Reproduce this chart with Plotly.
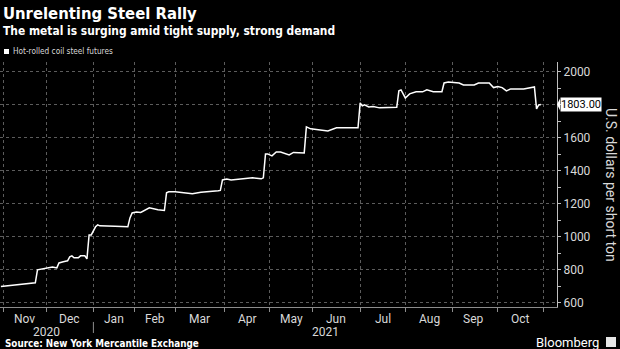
import plotly.graph_objects as go

# Hot-rolled coil steel futures, USD per short ton (trading days)
dates = [
    "2020-10-30", "2020-11-04", "2020-11-10", "2020-11-17", "2020-11-23", "2020-11-24",
    "2020-11-27", "2020-12-02", "2020-12-04", "2020-12-08", "2020-12-09", "2020-12-11",
    "2020-12-15", "2020-12-16", "2020-12-17", "2020-12-18", "2020-12-22", "2020-12-23",
    "2020-12-28", "2020-12-29", "2020-12-30", "2020-12-31", "2021-01-05", "2021-01-06",
    "2021-01-07", "2021-01-19", "2021-01-27", "2021-01-28", "2021-01-29", "2021-02-02",
    "2021-02-04", "2021-02-10", "2021-02-12", "2021-02-17", "2021-02-22", "2021-02-23",
    "2021-02-24", "2021-03-01", "2021-03-11", "2021-03-17", "2021-03-29", "2021-03-30",
    "2021-03-31", "2021-04-05", "2021-04-07", "2021-04-13", "2021-04-16", "2021-04-21",
    "2021-04-27", "2021-04-28", "2021-04-29", "2021-04-30", "2021-05-04", "2021-05-06",
    "2021-05-10", "2021-05-13", "2021-05-14", "2021-05-18", "2021-05-25", "2021-05-26",
    "2021-05-28", "2021-06-10", "2021-06-16", "2021-06-30", "2021-07-01", "2021-07-02",
    "2021-07-06", "2021-07-08", "2021-07-12", "2021-07-15", "2021-07-26", "2021-07-27",
    "2021-07-28", "2021-07-29", "2021-08-02", "2021-08-04", "2021-08-09", "2021-08-12",
    "2021-08-16", "2021-08-19", "2021-08-24", "2021-08-25", "2021-08-26", "2021-08-30",
    "2021-09-07", "2021-09-09", "2021-09-16", "2021-09-20", "2021-09-27", "2021-09-29",
    "2021-10-01", "2021-10-05", "2021-10-07", "2021-10-11", "2021-10-19", "2021-10-26",
    "2021-10-27", "2021-10-28", "2021-10-29",
]
prices = [
    700, 704, 710, 716, 722, 800,
    806, 812, 818, 812, 842, 849,
    855, 879, 885, 873, 873, 885,
    885, 867, 1012, 1012, 1061, 1073,
    1067, 1064, 1061, 1115, 1145, 1151,
    1148, 1176, 1170, 1164, 1160, 1267,
    1273, 1273, 1261, 1270, 1279, 1282,
    1345, 1351, 1345, 1351, 1358, 1358,
    1352, 1358, 1503, 1503, 1491, 1515,
    1515, 1503, 1497, 1512, 1509, 1667,
    1655, 1642, 1661, 1661, 1812, 1794,
    1800, 1788, 1790, 1782, 1788, 1785,
    1885, 1891, 1842, 1867, 1879, 1879,
    1891, 1880, 1879, 1880, 1933, 1939,
    1933, 1921, 1921, 1933, 1933, 1905,
    1912, 1905, 1885, 1897, 1897, 1909,
    1776, 1800, 1803,
]

# Exchange holidays removed from the trading-day axis
holidays = ["2020-11-26", "2020-12-25", "2021-01-01", "2021-01-18", "2021-02-15",
            "2021-04-02", "2021-05-31", "2021-07-05", "2021-09-06"]

# First trading day of each month (gridlines / ticks)
month_starts = ["2020-11-02", "2020-12-01", "2021-01-04", "2021-02-01", "2021-03-01",
                "2021-04-01", "2021-05-03", "2021-06-01", "2021-07-01", "2021-08-02",
                "2021-09-01", "2021-10-01", "2021-11-01"]
# Month label positions (middle of each month's trading days)
month_labels = ["Nov", "Dec", "Jan", "Feb", "Mar", "Apr", "May", "Jun", "Jul", "Aug", "Sep", "Oct"]
month_mids = ["2020-11-16", "2020-12-16", "2021-01-15 12:00", "2021-02-12 12:00",
              "2021-03-16 12:00", "2021-04-16 12:00", "2021-05-17", "2021-06-16",
              "2021-07-16 12:00", "2021-08-17", "2021-09-15 12:00", "2021-10-15 12:00"]
years = ["2020", "2021"]
year_pos = [0.083, 0.5835]
y_ticks = [600, 800, 1000, 1200, 1400, 1600, 1800, 2000]

last_price = prices[-1]

FONT = "DejaVu Sans Condensed, Roboto, sans-serif"
BODY = "Roboto, sans-serif"
GRID = "#5c5c5c"
AXIS = "#8c8c8c"
TXT = "#d9d9d9"

fig = go.Figure()
fig.add_trace(go.Scatter(
    x=dates, y=prices, mode="lines",
    line=dict(color="white", width=1.5),
    name="Hot-rolled coil steel futures", showlegend=False,
    hoverinfo="skip",
))

fig.update_layout(
    width=620, height=349,
    margin=dict(l=0, r=63, t=62, b=42),
    paper_bgcolor="black", plot_bgcolor="black",
    font=dict(family=BODY, color=TXT, size=11),
    xaxis=dict(
        type="date",
        range=["2020-10-29 14:00", "2021-11-09 12:00"],
        rangebreaks=[dict(bounds=["sat", "mon"]), dict(values=holidays)],
        tickmode="array", tickvals=month_starts, ticktext=[""] * len(month_starts),
        ticks="outside", ticklen=4, tickcolor=AXIS, tickwidth=1,
        showgrid=True, gridcolor=GRID, gridwidth=1, griddash="dot",
        showline=True, linecolor=AXIS, linewidth=1,
        zeroline=False, fixedrange=True,
    ),
    yaxis=dict(
        side="right", range=[575, 2060],
        tickmode="array", tickvals=y_ticks,
        ticks="outside", ticklen=3, tickcolor="#bfbfbf", tickwidth=1,
        minor=dict(dtick=100, tick0=600, ticks="outside", ticklen=3, tickcolor="#bfbfbf", showgrid=False),
        showgrid=True, gridcolor=GRID, gridwidth=1, griddash="dot",
        showline=True, linecolor="#bfbfbf", linewidth=1,
        tickfont=dict(size=12, color=TXT, family=BODY),
        zeroline=False, fixedrange=True,
    ),
)

ann = []
# Titles
ann.append(dict(text="<b>Unrelenting Steel Rally</b>", x=0.002, y=1.196, xref="paper", yref="paper",
                xanchor="left", yanchor="middle", showarrow=False,
                font=dict(size=16.5, color="white", family=FONT)))
ann.append(dict(text="<b>The metal is surging amid tight supply, strong demand</b>", x=0.002, y=1.127,
                xref="paper", yref="paper", xanchor="left", yanchor="middle", showarrow=False,
                font=dict(size=11.9, color="white", family=FONT)))
ann.append(dict(text="Hot-rolled coil steel futures", x=11 / 557, y=(307 - 51) / 245,
                xref="paper", yref="paper", xanchor="left", yanchor="middle", showarrow=False,
                font=dict(size=8.2, color=TXT, family=FONT)))
# Month and year labels
for lab, pos in zip(month_labels, month_mids):
    ann.append(dict(text=lab, x=pos, y=-0.049, xref="x", yref="paper", xanchor="center",
                    yanchor="middle", showarrow=False, font=dict(size=12, color=TXT, family=BODY)))
for lab, pos in zip(years, year_pos):
    ann.append(dict(text=lab, x=pos, y=-0.104, xref="paper", yref="paper", xanchor="center",
                    yanchor="middle", showarrow=False, font=dict(size=12, color=TXT, family=BODY)))
# Axis title
ann.append(dict(text="U.S. dollars per short ton", x=1.097, y=(307 - 185) / 245, xref="paper",
                yref="paper", xanchor="center", yanchor="middle", textangle=90, showarrow=False,
                font=dict(size=14, color=TXT, family=BODY)))
# Last value tag
ann.append(dict(text=f"{last_price:.2f}", x=560 / 557, y=last_price, xref="paper", yref="y",
                xanchor="left", yanchor="middle", showarrow=False, bgcolor="white", borderpad=0,
                font=dict(size=11, color="black", family=BODY)))
# Footer
ann.append(dict(text="<b>Source: New York Mercantile Exchange</b>", x=3 / 557, y=-0.149,
                xref="paper", yref="paper", xanchor="left", yanchor="middle", showarrow=False,
                font=dict(size=9.8, color="white", family=FONT)))
ann.append(dict(text="Bloomberg", x=601 / 557, y=-0.143, xref="paper", yref="paper",
                xanchor="right", yanchor="middle", showarrow=False,
                font=dict(size=13, color="white", family=BODY)))
fig.update_layout(annotations=ann)

shapes = [
    # legend swatch
    dict(type="rect", xref="paper", yref="paper", x0=4 / 557, x1=9 / 557,
         y0=(307 - 54) / 245, y1=(307 - 49) / 245, fillcolor="white", line=dict(width=0)),
    # year divider
    dict(type="line", xref="x", yref="paper", x0="2021-01-04", x1="2021-01-04",
         y0=-0.061, y1=-0.106, line=dict(color=AXIS, width=1)),
    # pointer of the last value tag
    dict(type="path", xref="paper", yref="y",
         path=f"M 1.0,{last_price} L {560 / 557},{last_price - 36} L {560 / 557},{last_price + 36} Z",
         fillcolor="white", line=dict(width=0)),
    # logo mark
    dict(type="rect", xref="paper", yref="paper", x0=606 / 557, x1=616 / 557,
         y0=(307 - 347) / 245, y1=(307 - 337) / 245, fillcolor="#e6e6e6", line=dict(width=0)),
]
fig.update_layout(shapes=shapes)

fig.write_html("out.html")
